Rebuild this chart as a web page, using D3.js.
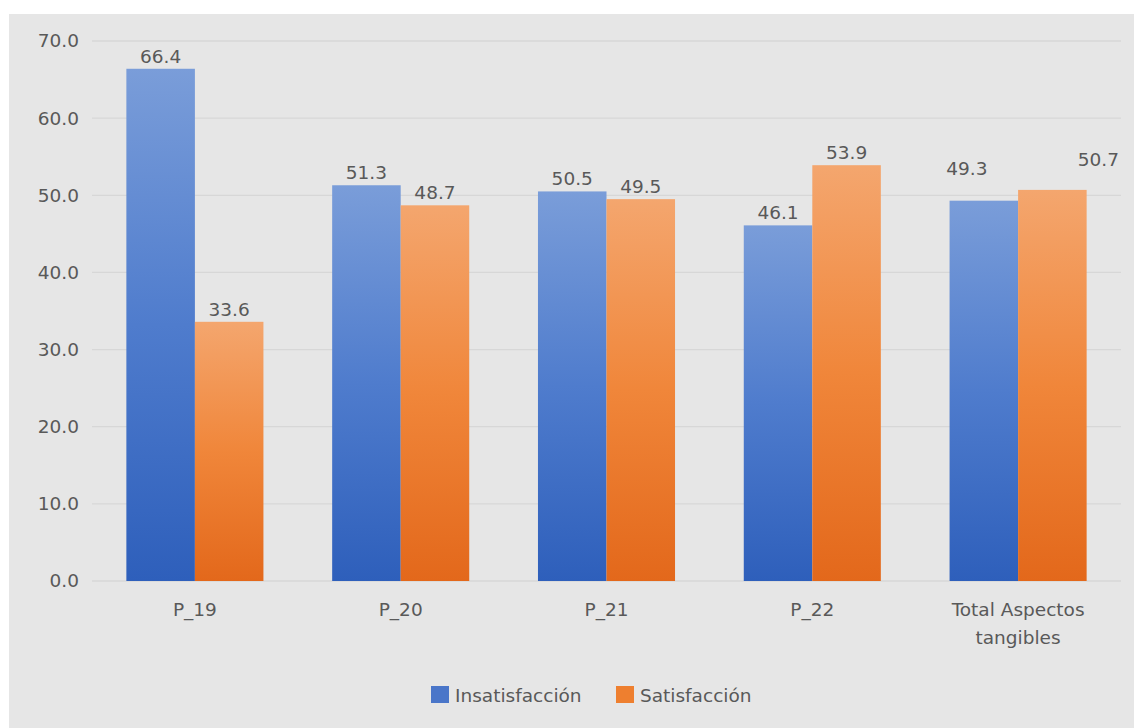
<!DOCTYPE html>
<html>
<head>
<meta charset="utf-8">
<script src="https://cdn.jsdelivr.net/npm/d3@7"></script>
<style>
  html, body { margin: 0; padding: 0; background: #ffffff; }
  svg { display: block; }
  text { font-family: "DejaVu Sans", "Open Sans", sans-serif; fill: #595959; }
</style>
</head>
<body>
<svg id="chart" width="1134" height="728"></svg>
<script>
// Categories and series values
const categories = ["P_19", "P_20", "P_21", "P_22", "Total Aspectos tangibles"];
const insatisfaccion = [66.4, 51.3, 50.5, 46.1, 49.3];
const satisfaccion = [33.6, 48.7, 49.5, 53.9, 50.7];
const seriesNames = ["Insatisfacción", "Satisfacción"];
const yTicks = [0, 10, 20, 30, 40, 50, 60, 70];

const W = 1134, H = 728;
const FONT = '"DejaVu Sans", "Open Sans", sans-serif';
const FS = "18.5px";
const margin = { left: 92, right: 13, top: 41, bottom: 147 };
const svg = d3.select("#chart");

// Gradients: light at the top of each bar, saturated at the base
const defs = svg.append("defs");
const gradStops = [
  { id: "gBlue", stops: ["#7a9dd9", "#4f7ccd", "#2e5fbb"] },
  { id: "gOrange", stops: ["#f4a66e", "#f0863a", "#e3681b"] }
];
gradStops.forEach(g => {
  const lg = defs.append("linearGradient").attr("id", g.id)
    .attr("x1", 0).attr("y1", 0).attr("x2", 0).attr("y2", 1);
  lg.append("stop").attr("offset", "0%").attr("stop-color", g.stops[0]);
  lg.append("stop").attr("offset", "50%").attr("stop-color", g.stops[1]);
  lg.append("stop").attr("offset", "100%").attr("stop-color", g.stops[2]);
});
const legendColors = ["#4a76c9", "#ee7f2f"];

// Chart area background
svg.append("rect").attr("x", 9).attr("y", 14).attr("width", W - 9).attr("height", H - 14)
  .attr("fill", "#e6e6e6");

const x0 = d3.scaleBand().domain(categories)
  .range([margin.left, W - margin.right]).paddingInner(0.334).paddingOuter(0.167);
const x1 = d3.scaleBand().domain([0, 1]).range([0, x0.bandwidth()]);
const y = d3.scaleLinear().domain([0, 70]).range([H - margin.bottom, margin.top]);

// Gridlines
svg.append("g").selectAll("line").data(yTicks).join("line")
  .attr("x1", margin.left).attr("x2", W - margin.right)
  .attr("y1", d => y(d)).attr("y2", d => y(d))
  .attr("stroke", "#d7d7d7").attr("stroke-width", 1.3);

// Y axis labels
const yAxis = d3.axisLeft(y).tickValues(yTicks).tickFormat(d3.format(".1f")).tickSize(0).tickPadding(13);
const gy = svg.append("g").attr("transform", `translate(${margin.left},0)`).call(yAxis);
gy.select(".domain").remove();
gy.selectAll("text").style("font-size", FS).attr("fill", "#595959")
  .style("font-family", FONT);

// Bars
const rows = categories.map((c, i) => ({ cat: c, vals: [insatisfaccion[i], satisfaccion[i]] }));
const groups = svg.append("g").selectAll("g").data(rows).join("g")
  .attr("transform", d => `translate(${x0(d.cat)},0)`);
groups.selectAll("rect").data(d => d.vals.map((v, k) => ({ v, k }))).join("rect")
  .attr("x", d => x1(d.k)).attr("width", x1.bandwidth())
  .attr("y", d => y(d.v)).attr("height", d => y(0) - y(d.v))
  .attr("fill", d => d.k === 0 ? "url(#gBlue)" : "url(#gOrange)");

// Value labels (the total group's labels sit a little further out)
const labelShift = (ci, k) => {
  if (ci === 4) return k === 0 ? { dx: -17, dy: -20 } : { dx: 46, dy: -18 };
  return { dx: 0, dy: 0 };
};
groups.each(function(d, ci) {
  d3.select(this).selectAll("text.val").data(d.vals.map((v, k) => ({ v, k }))).join("text")
    .attr("class", "val")
    .attr("x", e => x1(e.k) + x1.bandwidth() / 2 + labelShift(ci, e.k).dx)
    .attr("y", e => y(e.v) - 6 + labelShift(ci, e.k).dy)
    .attr("text-anchor", "middle").style("font-size", FS)
    .text(e => d3.format(".1f")(e.v));
});

// Category labels (wrapped in two lines for the long one)
const catLines = { "Total Aspectos tangibles": ["Total Aspectos", "tangibles"] };
svg.append("g").selectAll("text").data(categories).join("text")
  .attr("x", d => x0(d) + x0.bandwidth() / 2)
  .attr("y", y(0) + 35)
  .attr("text-anchor", "middle").style("font-size", FS)
  .each(function(d) {
    const lines = catLines[d] || [d];
    d3.select(this).selectAll("tspan").data(lines).join("tspan")
      .attr("x", x0(d) + x0.bandwidth() / 2)
      .attr("dy", (l, i) => i === 0 ? 0 : 28)
      .text(l => l);
  });

// Legend
const legendPos = [431, 616];
const lg = svg.append("g");
seriesNames.forEach((name, i) => {
  lg.append("rect").attr("x", legendPos[i]).attr("y", 686).attr("width", 18).attr("height", 17)
    .attr("fill", legendColors[i]);
  lg.append("text").attr("x", legendPos[i] + 24).attr("y", 702)
    .style("font-size", FS).text(name);
});
</script>
</body>
</html>
